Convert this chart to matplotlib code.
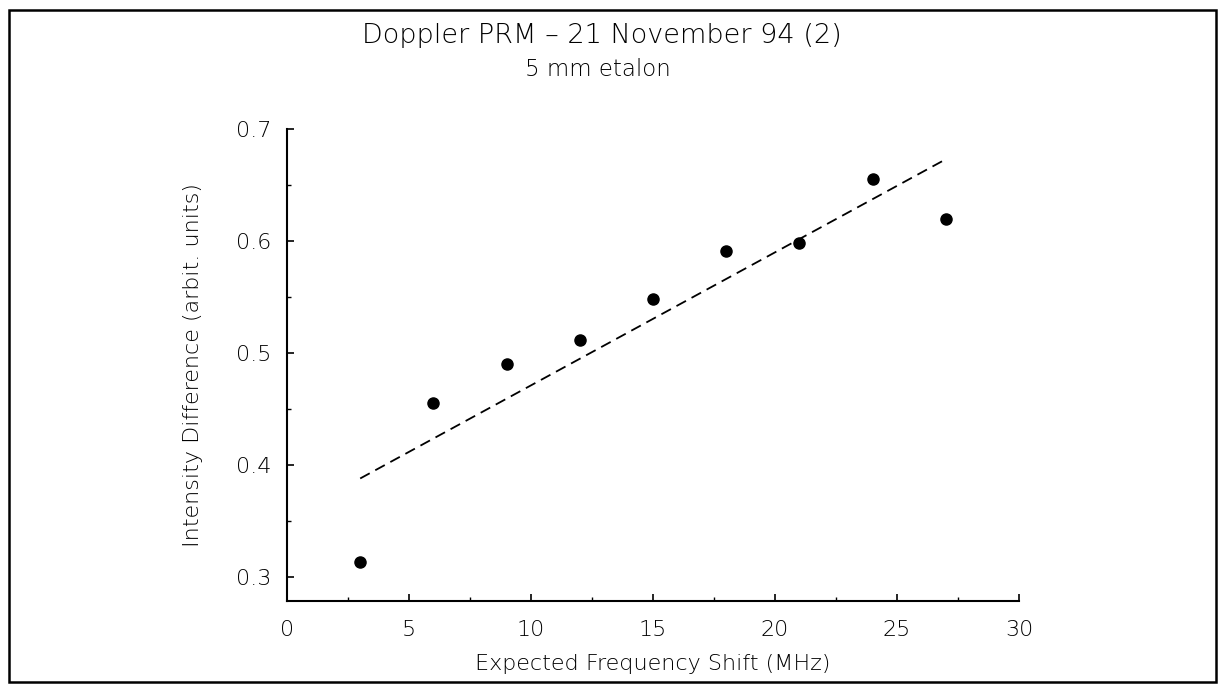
import matplotlib

matplotlib.use("Agg")
import matplotlib.pyplot as plt
from matplotlib.patches import Rectangle
from matplotlib.ticker import MultipleLocator, FormatStrFormatter

# measured points
shift_mhz = [3, 6, 9, 12, 15, 18, 21, 24, 27]
intensity_diff = [0.313, 0.455, 0.490, 0.512, 0.548, 0.591, 0.598, 0.655, 0.620]

# dashed linear fit, drawn between its two end points
fit_x = [3, 27]
fit_y = [0.388, 0.673]

title = "Doppler PRM \u2013 21 November 94 (2)"
subtitle = "5 mm etalon"
xlabel = "Expected Frequency Shift (MHz)"
ylabel = "Intensity Difference (arbit. units)"

plt.rcParams["font.family"] = ["DejaVu Sans"]
plt.rcParams["font.weight"] = "light"
plt.rcParams["axes.labelweight"] = "light"

fig = plt.figure(figsize=(12.24, 6.85), dpi=100)
ax = fig.add_axes([287 / 1224, 1 - 601 / 685, 732 / 1224, 472 / 685])

ax.plot(fit_x, fit_y, color="black", lw=1.3, dashes=(6, 3.5))
ax.plot(shift_mhz, intensity_diff, "o", color="black", markersize=8, clip_on=False)

ax.set_xlim(0, 30)
ax.set_ylim(0.2786, 0.7)
ax.xaxis.set_major_locator(MultipleLocator(5))
ax.xaxis.set_minor_locator(MultipleLocator(2.5))
ax.yaxis.set_major_locator(MultipleLocator(0.1))
ax.yaxis.set_minor_locator(MultipleLocator(0.05))
ax.yaxis.set_major_formatter(FormatStrFormatter("%.1f"))

for side in ("top", "right"):
    ax.spines[side].set_visible(False)
for side in ("left", "bottom"):
    ax.spines[side].set_linewidth(1.5)

ax.tick_params(which="major", direction="in", length=5, width=1.2, labelsize=16)
ax.tick_params(which="minor", direction="in", length=3, width=1.0)
ax.tick_params(axis="x", which="major", pad=14)
ax.tick_params(axis="y", which="major", pad=11)

ax.set_xlabel(xlabel, fontsize=16, labelpad=10)
ax.set_ylabel(ylabel, fontsize=16, labelpad=24)

fig.text(602 / 1224, 1 - 36 / 685, title, ha="center", va="center", fontsize=19.5)
fig.text(598 / 1224, 1 - 69 / 685, subtitle, ha="center", va="center", fontsize=16.5)

# page frame around the whole figure
fig.patches.append(Rectangle((9 / 1224, 1 - 682 / 685), 1207 / 1224, 672 / 685,
                             transform=fig.transFigure, fill=False,
                             edgecolor="black", linewidth=1.8))

fig.savefig("out.png", dpi=100)
